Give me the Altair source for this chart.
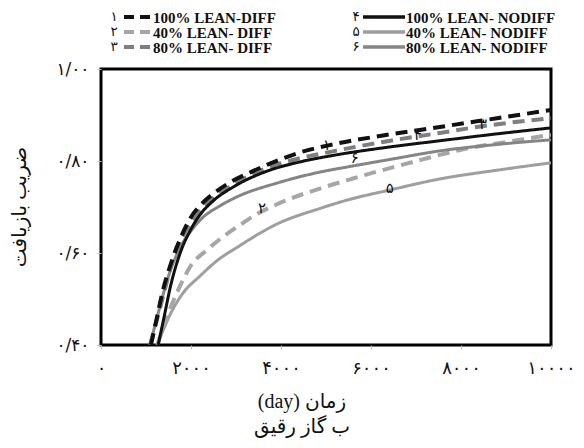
import altair as alt
import pandas as pd

names = ["100% LEAN-DIFF", "40% LEAN- DIFF", "80% LEAN- DIFF",
         "100% LEAN- NODIFF", "40% LEAN- NODIFF", "80% LEAN- NODIFF"]
digits = ["۱", "۲", "۳", "۴", "۵", "۶"]
colors = ["#111111", "#a6a6a6", "#7f7f7f", "#111111", "#9e9e9e", "#858585"]
dashed = [True, True, True, False, False, False]

s1_days = [1110, 1200, 1380, 1600, 1780, 1980, 2270, 2580, 2930, 3310, 3700, 4400, 5150, 6300, 7530, 8800, 10000]
s1_vals = [0.40, 0.44, 0.52, 0.59, 0.635, 0.675, 0.71, 0.735, 0.757, 0.775, 0.792, 0.818, 0.836, 0.856, 0.874, 0.893, 0.911]
s2_days = [1250, 1500, 1800, 1980, 2360, 2710, 3090, 3470, 3910, 5020, 5600, 6360, 7090, 7980, 9310, 10000]
s2_vals = [0.40, 0.47, 0.537, 0.57, 0.607, 0.635, 0.661, 0.685, 0.706, 0.745, 0.762, 0.783, 0.802, 0.824, 0.846, 0.857]
s3_days = [1090, 1310, 1470, 1600, 1870, 2100, 2420, 2930, 3690, 4420, 5150, 6300, 7530, 8500, 10000]
s3_vals = [0.40, 0.48, 0.54, 0.59, 0.645, 0.68, 0.713, 0.748, 0.785, 0.806, 0.821, 0.842, 0.861, 0.876, 0.893]
s4_days = [1270, 1400, 1550, 1760, 2000, 2200, 2500, 2930, 3690, 4420, 5150, 6300, 7530, 8800, 10000]
s4_vals = [0.40, 0.46, 0.53, 0.60, 0.652, 0.683, 0.714, 0.743, 0.778, 0.798, 0.812, 0.829, 0.844, 0.859, 0.872]
s5_days = [1250, 1530, 1800, 2200, 2600, 3020, 3910, 4870, 5470, 6420, 7530, 8800, 10000]
s5_vals = [0.40, 0.465, 0.51, 0.55, 0.585, 0.612, 0.663, 0.697, 0.715, 0.737, 0.761, 0.78, 0.796]
s6_days = [1090, 1300, 1500, 1760, 2000, 2270, 2600, 3020, 3910, 4870, 5470, 6400, 7530, 8800, 10000]
s6_vals = [0.40, 0.48, 0.55, 0.612, 0.648, 0.678, 0.70, 0.722, 0.752, 0.776, 0.787, 0.803, 0.822, 0.836, 0.846]

all_days = [s1_days, s2_days, s3_days, s4_days, s5_days, s6_days]
all_vals = [s1_vals, s2_vals, s3_vals, s4_vals, s5_vals, s6_vals]

lab_days = [5020, 3580, 8490, 7040, 6420, 5640]
lab_vals = [0.835, 0.698, 0.880, 0.857, 0.741, 0.807]

x_ticks = [0, 2000, 4000, 6000, 8000, 10000]
x_labels = ["۰", "۲۰۰۰", "۴۰۰۰", "۶۰۰۰", "۸۰۰۰", "۱۰۰۰۰"]
y_ticks = [0.4, 0.6, 0.8, 1.0]
y_labels = ["۰/۴۰", "۰/۶۰", "۰/۸۰", "۱/۰۰"]

x_title = ["(day) زمان", "ب گاز رقیق"]
y_title = "ضریب بازیافت"

FA = "DejaVu Sans"
SERIF = "Liberation Serif"
MIX = "Liberation Serif, DejaVu Sans"


def expr(ticks, labels):
    s = ""
    for v, l in zip(ticks, labels):
        s += f"abs(datum.value - {v}) < 1e-6 ? '{l}' : "
    return s + "''"


x_enc = alt.X("day:Q", scale=alt.Scale(domain=[0, 10000], nice=False),
              axis=alt.Axis(values=x_ticks, labelExpr=expr(x_ticks, x_labels), title=None,
                            grid=False, domain=False, tickColor="#bbbbbb", tickSize=4,
                            labelFontSize=18, labelFont=FA, labelPadding=10, labelFlush=False,
                            labelOverlap=False, labelColor="#111"))
y_enc = alt.Y("value:Q", scale=alt.Scale(domain=[0.4, 1.0], nice=False),
              axis=alt.Axis(values=y_ticks, labelExpr=expr(y_ticks, y_labels), title=None,
                            grid=False, domain=False, tickColor="#bbbbbb", tickSize=4,
                            labelFontSize=17, labelFont=FA, labelPadding=8, labelColor="#111"))

draw_order = [4, 1, 5, 2, 3, 0]
layers = []
for i in draw_order:
    d = pd.DataFrame({"day": all_days[i], "value": all_vals[i]})
    m = alt.Chart(d).mark_line(
        clip=True, interpolate="monotone", color=colors[i],
        strokeWidth=4 if dashed[i] else 3,
        strokeDash=[12, 7] if dashed[i] else [1, 0], strokeCap="butt")
    layers.append(m.encode(x=x_enc, y=y_enc))

lab_df = pd.DataFrame({"day": lab_days, "value": lab_vals, "t": digits})
layers.append(alt.Chart(lab_df).mark_text(font=FA, fontSize=15, color="#111").encode(
    x=x_enc, y=y_enc, text="t:N"))

one = pd.DataFrame({"a": [0]})
# legend (pixel offsets from plot origin)
row_y = [-52, -37, -22]
for i in range(6):
    col = i // 3
    r = i % 3
    if col == 0:
        dx, lx1, lx2, tx = 13, 23, 49, 52
    else:
        dx, lx1, lx2, tx = 255, 262, 304, 305
    y = row_y[r]
    layers.append(alt.Chart(one).mark_rule(
        color=colors[i], strokeWidth=4 if dashed[i] else 3.5,
        strokeDash=[10, 6] if dashed[i] else [1, 0]).encode(
        x=alt.value(lx1), x2=alt.value(lx2), y=alt.value(y)))
    layers.append(alt.Chart(one).mark_text(
        font=SERIF, fontWeight="bold", fontSize=15, align="left", baseline="middle",
        color="#111").encode(x=alt.value(tx), y=alt.value(y + 1), text=alt.value(names[i])))
    layers.append(alt.Chart(one).mark_text(
        font=FA, fontSize=13.5, align="center", baseline="middle", color="#111").encode(
        x=alt.value(dx), y=alt.value(y), text=alt.value(digits[i])))

layers.append(alt.Chart(one).mark_text(
    font=MIX, fontSize=20, align="center", baseline="middle", lineHeight=25, color="#111").encode(
    x=alt.value(201), y=alt.value(333), text=alt.value(x_title)))
layers.append(alt.Chart(one).mark_text(
    font=MIX, fontSize=20, align="center", baseline="middle", angle=270, color="#111").encode(
    x=alt.value(-81), y=alt.value(138), text=alt.value(y_title)))

chart = alt.layer(*layers).properties(
    width=450, height=276,
    autosize=alt.AutoSizeParams(type="none"),
    padding={"left": 93, "top": 61, "right": 25, "bottom": 95},
).configure_view(stroke="black", strokeWidth=3)

chart.save("out.html", embed_options={"renderer": "svg", "actions": False})
